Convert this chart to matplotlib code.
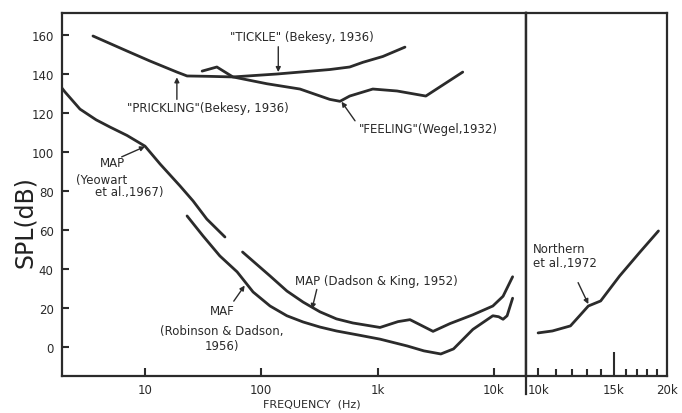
import numpy as np
import matplotlib
matplotlib.use("Agg")
import matplotlib.pyplot as plt
from matplotlib.lines import Line2D

# ---------------- data ----------------
yeowart_f = [1.93, 2.05, 2.76, 3.8, 5.0, 7.0, 10.0, 13.5, 20.0, 25.9, 34.0, 48.7]
yeowart_db = [132.8, 130.8, 122.0, 116.5, 112.8, 108.5, 103.0, 93.8, 82.6, 74.9, 65.6, 56.4]

maf_f = [23, 31.5, 44, 62, 85, 119, 166, 229, 320, 443, 700, 1050, 1800, 2500,
         3500, 4500, 6600, 9800, 11000, 12000, 13000, 14500]
maf_db = [67.2, 57.0, 46.7, 38.5, 28.2, 21.0, 16.0, 12.8, 10.2, 8.2, 6.0, 4.0,
          0.5, -2.0, -3.6, -1.0, 9.0, 16.0, 15.5, 14.2, 16.0, 25.0]

mapdk_f = [69, 119, 166, 229, 320, 443, 613, 1050, 1500, 1900, 2300, 3000,
           4200, 6600, 9800, 12000, 14500]
mapdk_db = [48.7, 36.4, 28.7, 23.0, 18.0, 14.4, 12.3, 10.0, 13.0, 14.0, 11.5,
            8.0, 12.0, 16.5, 21.0, 26.0, 36.0]

bekesy_f = [3.57, 7.0, 11.0, 18.8, 23.0, 36.0, 57.0, 136, 215, 388, 576, 747, 1110, 1720]
bekesy_db = [159.5, 151.8, 146.7, 141.0, 139.0, 138.8, 138.5, 140.0, 141.0,
             142.3, 143.6, 146.0, 149.0, 153.8]

wegel_f = [31, 41.5, 57, 112, 215, 388, 475, 576, 910, 1470, 2600, 5400]
wegel_db = [141.5, 143.6, 138.5, 135.0, 132.3, 127.0, 126.0, 128.7, 132.3,
            131.3, 128.7, 141.0]

northern_f = [10000, 10800, 11900, 12500, 13100, 14000, 15500, 17300, 19100]
northern_db = [7.2, 8.2, 10.8, 16.0, 21.0, 23.6, 36.4, 48.7, 59.5]

left_ticks = [10, 100, 1000, 10000]
left_ticklabels = ["10", "100", "1k", "10k"]
right_ticks = [10000, 15000, 20000]
right_ticklabels = ["10k", "15k", "20k"]
right_minor = [11000, 12000, 13000, 14000, 16000, 17000, 18000, 19000]
y_ticks = [0, 20, 40, 60, 80, 100, 120, 140, 160]

# ---------------- figure ----------------
W, H = 682, 414
fig = plt.figure(figsize=(W / 100, H / 100), dpi=100)
plt.rcParams['font.family'] = ['DejaVu Sans']

L, R, RR = 62, 526, 667
TOP, BOT = 14, 377
ax = fig.add_axes([L / W, 1 - BOT / H, (R - L) / W, (BOT - TOP) / H])
ax2 = fig.add_axes([R / W, 1 - BOT / H, (RR - R) / W, (BOT - TOP) / H])

ylim = (-14.9, 171.3)
lc = "#2b2b2b"
lw = 2.0

for a in (ax, ax2):
    a.set_xscale("log")
    a.set_ylim(*ylim)
    for s in a.spines.values():
        s.set_linewidth(1.6)
        s.set_color(lc)

ax.set_xlim(1.933, 18900)
ax2.set_xlim(9370, 20000)

kw = dict(color=lc, lw=lw, solid_capstyle="round", solid_joinstyle="round")
ax.plot(yeowart_f, yeowart_db, **kw)
ax.plot(maf_f, maf_db, **kw)
ax.plot(mapdk_f, mapdk_db, **kw)
ax.plot(bekesy_f, bekesy_db, **kw)
ax.plot(wegel_f, wegel_db, **kw)
ax2.plot(northern_f, northern_db, **kw)

# ticks
fs = 8.5
tc = "#2a2a2a"
ax.set_yticks(y_ticks)
ax.set_yticklabels([str(v) for v in y_ticks], fontsize=fs, color=tc)
ax.tick_params(axis="y", direction="in", length=5, width=1.5, pad=6, color=lc)
ax.set_xticks(left_ticks)
ax.set_xticklabels(left_ticklabels, fontsize=fs, color=tc)
ax.xaxis.set_minor_locator(matplotlib.ticker.NullLocator())
ax.tick_params(axis="x", which="major", direction="in", length=6, width=1.5,
               pad=5, color=lc)

ax2.set_yticks([])
ax2.set_xticks(right_ticks)
ax2.set_xticklabels(right_ticklabels, fontsize=fs, color=tc)
ax2.set_xticks(right_minor, minor=True)
ax2.xaxis.set_minor_formatter(matplotlib.ticker.NullFormatter())
ax2.tick_params(axis="x", which="major", direction="in", length=6, width=1.5,
                pad=5, color=lc)
ax2.tick_params(axis="x", which="minor", direction="in", length=5, width=1.5,
                color=lc)
ax2.xaxis.get_major_ticks()[1].tick1line.set_markersize(17)
ax2.xaxis.get_major_ticks()[2].tick1line.set_markersize(0)

# divider extending below the axis
ax2.add_line(Line2D([0, 0], [-0.05, 1], transform=ax2.transAxes, color=lc,
                    lw=1.6, clip_on=False))

# labels
fig.text(25 / W, 1 - 222 / H, "SPL(dB)", rotation=90, fontsize=17,
         ha="center", va="center", color="#222222")
fig.text(312 / W, 1 - 405 / H, "FREQUENCY  (Hz)", fontsize=8, ha="center",
         va="center", color=tc)

ap = dict(arrowstyle="-|>", color=lc, lw=1.0, mutation_scale=7, shrinkA=0, shrinkB=0)

ax.text(54, 159, '"TICKLE" (Bekesy, 1936)', fontsize=fs, color=tc,
        ha="left", va="center")
ax.annotate('', xy=(140, 141), xytext=(140, 154), arrowprops=ap)
ax.text(34.8, 123, '"PRICKLING"(Bekesy, 1936)', fontsize=fs, color=tc,
        ha="center", va="center")
ax.annotate('', xy=(18.8, 138.3), xytext=(18.8, 127), arrowprops=ap)
ax.text(2750, 111.8, '"FEELING"(Wegel,1932)', fontsize=fs, color=tc,
        ha="center", va="center")
ax.annotate('', xy=(490, 125.8), xytext=(640, 116), arrowprops=ap)
ax.annotate('', xy=(10, 102.8), xytext=(6.3, 97.5), arrowprops=ap)
ax.text(5.2, 94.5, "MAP", fontsize=fs, color=tc, ha="center", va="center")
ax.text(2.55, 86.0, "(Yeowart", fontsize=fs, color=tc, ha="left", va="center")
ax.text(3.7, 79.5, "et al.,1967)", fontsize=fs, color=tc, ha="left", va="center")
ax.annotate('', xy=(273, 19.5), xytext=(300, 29.5), arrowprops=ap)
ax.text(195, 34, "MAP (Dadson & King, 1952)", fontsize=fs, color=tc,
        ha="left", va="center")
ax.annotate('', xy=(72, 31.5), xytext=(58, 23.5), arrowprops=ap)
ax.text(46, 18.5, "MAF", fontsize=fs, color=tc, ha="center", va="center")
ax.text(46, 8.2, "(Robinson & Dadson,", fontsize=fs, color=tc, ha="center", va="center")
ax.text(46, 1.0, "1956)", fontsize=fs, color=tc, ha="center", va="center")

ax2.text(9730, 46.7, "Northern\net al.,1972", fontsize=fs, color=tc,
         ha="left", va="center", linespacing=1.1)
ax2.annotate('', xy=(13100, 22), xytext=(12400, 33), arrowprops=ap)

fig.savefig("out.png", dpi=100)
